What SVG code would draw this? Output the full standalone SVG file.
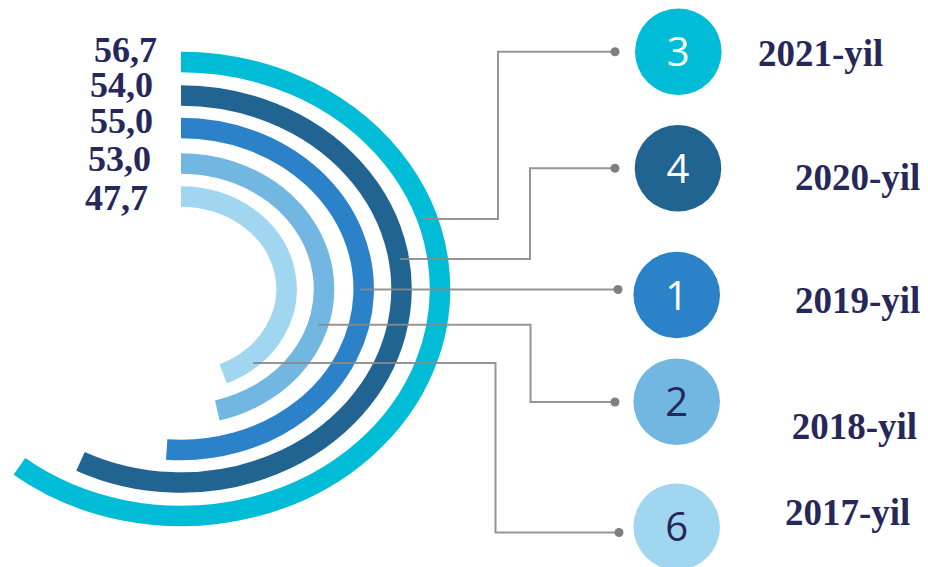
<svg xmlns="http://www.w3.org/2000/svg" width="928" height="567" viewBox="0 0 928 567">
<style>
.arc{fill:none;stroke-width:20.5;stroke-linecap:butt}
.val{font-family:"Liberation Serif","Times New Roman",serif;font-weight:bold;font-size:36px;fill:#27285a}
.yr{font-family:"Liberation Serif","Times New Roman",serif;font-weight:bold;font-size:37px;fill:#27285a}
.num{font-family:"Open Sans","DejaVu Sans",sans-serif;font-size:40px;text-anchor:middle}
.ln{fill:none;stroke:#8a8a8a;stroke-width:2;opacity:0.9}
.dot{fill:#7f7f7f}
</style>
<rect width="928" height="567" fill="#ffffff"/>
<g id="arcs">
<path class="arc" stroke="#00bcd6" d="M181,62 A259,227 0 1 1 19.4,466.4"/>
<path class="arc" stroke="#216391" d="M181,95.5 A220.6,193.5 0 1 1 80.5,461.3"/>
<path class="arc" stroke="#2b82c8" d="M181,128 A182.6,161 0 1 1 166.7,449.5"/>
<path class="arc" stroke="#72b7e1" d="M181,163.5 A143,125.5 0 0 1 217.3,410.4"/>
<path class="arc" stroke="#a0d6ef" d="M181,196.5 A105.5,92.5 0 0 1 223.2,373.8"/>
</g>
<g id="values">
<text class="val" x="94" y="62">56,7</text>
<text class="val" x="90" y="97">54,0</text>
<text class="val" x="90" y="133">55,0</text>
<text class="val" x="88" y="171">53,0</text>
<text class="val" x="85" y="210">47,7</text>
</g>
<g id="connectors">
<polyline class="ln" points="423,219 498,219 498,51.7 615,51.7"/>
<polyline class="ln" points="400,259 530,259 530,168.3 615,168.3"/>
<polyline class="ln" points="360,289.5 618,289.5"/>
<polyline class="ln" points="318,324.7 530.5,324.7 530.5,402 615,402"/>
<polyline class="ln" points="253,363 495.5,363 495.5,532.5 619,532.5"/>
<circle class="dot" cx="615" cy="51.7" r="4.5"/>
<circle class="dot" cx="615" cy="168.3" r="4.5"/>
<circle class="dot" cx="618" cy="289.5" r="4.5"/>
<circle class="dot" cx="615" cy="402" r="4.5"/>
<circle class="dot" cx="619" cy="532.5" r="4.5"/>
</g>
<g id="node-2021">
<circle cx="678.3" cy="51.7" r="43.3" fill="#00bcd6"/>
<text class="num" x="678.3" y="66" fill="#ffffff">3</text>
<text class="yr" x="758" y="66">2021-yil</text>
</g>
<g id="node-2020">
<circle cx="678" cy="168.3" r="43.3" fill="#216391"/>
<text class="num" x="678" y="183" fill="#ffffff">4</text>
<text class="yr" x="795" y="190">2020-yil</text>
</g>
<g id="node-2019">
<circle cx="676.7" cy="295" r="43.3" fill="#2b82c8"/>
<text class="num" x="676.7" y="309.5" fill="#ffffff">1</text>
<text class="yr" x="795" y="312.7">2019-yil</text>
</g>
<g id="node-2018">
<circle cx="676.7" cy="401.7" r="43.3" fill="#72b7e1"/>
<text class="num" x="676.7" y="416" fill="#27285a">2</text>
<text class="yr" x="791.7" y="439.3">2018-yil</text>
</g>
<g id="node-2017">
<circle cx="676.7" cy="526.7" r="43.3" fill="#a0d6ef"/>
<text class="num" x="676.7" y="541" fill="#27285a">6</text>
<text class="yr" x="785" y="525">2017-yil</text>
</g>
</svg>
